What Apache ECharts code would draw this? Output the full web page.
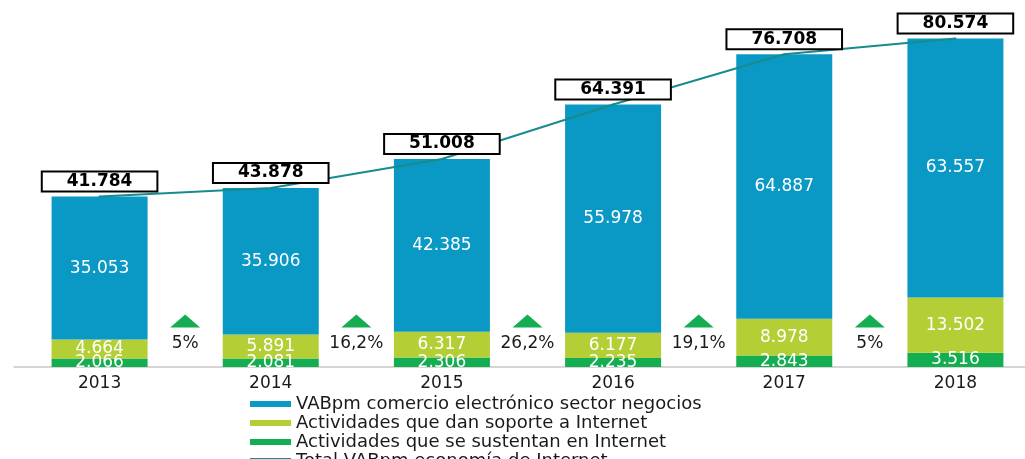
<!DOCTYPE html>
<html>
<head>
<meta charset="utf-8">
<script src="https://cdn.jsdelivr.net/npm/echarts@6/dist/echarts.min.js"></script>
<style>
html,body{margin:0;padding:0;background:#fff;}
#main{width:1025px;height:459px;}
</style>
</head>
<body>
<div id="main"></div>
<script>
var years = ['2013','2014','2015','2016','2017','2018'];
var comercio = [35053, 35906, 42385, 55978, 64887, 63557];
var soporte = [4664, 5891, 6317, 6177, 8978, 13502];
var sustentan = [2066, 2081, 2306, 2235, 2843, 3516];
var total = [41784, 43878, 51008, 64391, 76708, 80574];
var growth = ['5%', '16,2%', '26,2%', '19,1%', '5%'];
var growthPos = [0.5, 1.5, 2.5, 3.5, 4.5];

var names = [
	'VABpm comercio electrónico sector negocios',
	'Actividades que dan soporte a Internet',
	'Actividades que se sustentan en Internet',
	'Total VABpm economía de Internet'
];

function fmt(v){
	return String(v).replace(/\B(?=(\d{3})+(?!\d))/g, '.');
}

var font = 'DejaVu Sans';
var markerLevel = 11300;

var barLabel = {
	show: true,
	position: 'inside',
	color: '#fff',
	fontFamily: font,
	fontSize: 17,
	formatter: function(p){ return fmt(p.value); }
};

function barSeries(name, data, color){
	return {
		name: name,
		type: 'bar',
		stack: 'vab',
		barWidth: 96,
		data: data,
		itemStyle: {color: color},
		label: barLabel
	};
}

var markers = [];
for(var i = 0; i < growthPos.length; i++){
	markers.push([growthPos[i], markerLevel]);
}

var myChart = echarts.init(document.getElementById('main'));
var option = {
	animation: false,
	grid: {left: 14, width: 1027, top: 0, bottom: 92, outerBoundsMode: 'none'},
	legend: {
		orient: 'horizontal',
		left: 245,
		top: 390,
		width: 520,
		icon: 'rect',
		itemWidth: 41,
		itemHeight: 6,
		itemGap: 1,
		data: names,
		textStyle: {fontFamily: font, fontSize: 18, color: '#1a1a1a'}
	},
	xAxis: [{
		type: 'category',
		data: years,
		axisLine: {lineStyle: {color: '#c8c8c8', width: 1.5}},
		axisTick: {show: false},
		axisLabel: {fontFamily: font, fontSize: 17, color: '#1a1a1a', margin: 8}
	}, {
		type: 'value',
		min: -0.5,
		max: 5.5,
		show: false
	}],
	yAxis: {
		type: 'value',
		min: 0,
		max: 90000,
		show: false
	},
	series: [
		barSeries(names[2], sustentan, '#15ad52'),
		barSeries(names[1], soporte, '#b4cf35'),
		barSeries(names[0], comercio, '#0a98c4'),
		{
			name: names[3],
			type: 'line',
			data: total,
			symbol: 'circle',
			symbolSize: 2,
			itemStyle: {color: '#1a8b8b'},
			lineStyle: {color: '#1a8b8b', width: 2},
			z: 5,
			label: {
				show: true,
				position: 'top',
				distance: 5,
				fontFamily: font,
				fontSize: 17,
				fontWeight: 'bold',
				color: '#000',
				lineHeight: 16,
				backgroundColor: '#fff',
				borderColor: '#000',
				borderWidth: 2,
				padding: [1, 24],
				formatter: function(p){ return fmt(p.value); }
			}
		},
		{
			type: 'scatter',
			xAxisIndex: 1,
			data: markers,
			symbol: 'triangle',
			symbolSize: [30, 13],
			itemStyle: {color: '#15ad52', opacity: 1},
			label: {
				show: true,
				position: 'bottom',
				distance: 8,
				fontFamily: font,
				fontSize: 17,
				color: '#1a1a1a',
				formatter: function(p){ return growth[p.dataIndex]; }
			}
		}
	]
};
myChart.setOption(option);
</script>
</body>
</html>
